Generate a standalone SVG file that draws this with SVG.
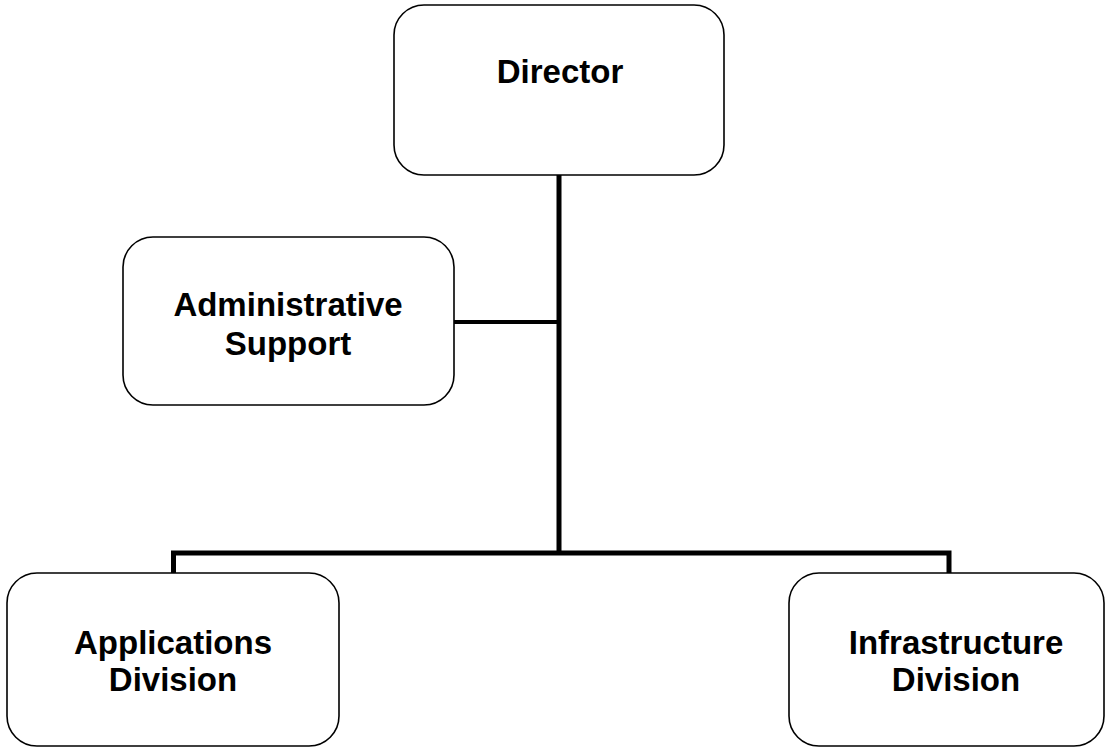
<svg xmlns="http://www.w3.org/2000/svg" width="1106" height="748" viewBox="0 0 1106 748">
<style>
.box{fill:#fff;stroke:#000;stroke-width:1.6}
.lbl{font-family:"Liberation Sans",Arial,sans-serif;font-weight:bold;font-size:33px;fill:#000;text-anchor:middle}
.con{fill:none;stroke:#000;stroke-width:5;stroke-linejoin:miter}
</style>
<rect width="1106" height="748" fill="#fff"/>
<g id="connectors">
<path class="con" d="M559,175 V553"/>
<path class="con" d="M454,322 H559" style="stroke-width:4"/>
<path class="con" d="M173.5,573 V553 H949 V573"/>
</g>
<g id="director">
<rect class="box" x="394" y="5" width="330" height="170" rx="30"/>
<text class="lbl" x="560" y="83">Director</text>
</g>
<g id="admin">
<rect class="box" x="123" y="237" width="331" height="168" rx="30"/>
<text class="lbl" x="288" y="316">Administrative</text>
<text class="lbl" x="288" y="355">Support</text>
</g>
<g id="applications">
<rect class="box" x="7" y="573" width="332" height="173" rx="30"/>
<text class="lbl" x="173" y="654">Applications</text>
<text class="lbl" x="173" y="691">Division</text>
</g>
<g id="infrastructure">
<rect class="box" x="789" y="573" width="315" height="173" rx="30"/>
<text class="lbl" x="956" y="654">Infrastructure</text>
<text class="lbl" x="956" y="691">Division</text>
</g>
</svg>
